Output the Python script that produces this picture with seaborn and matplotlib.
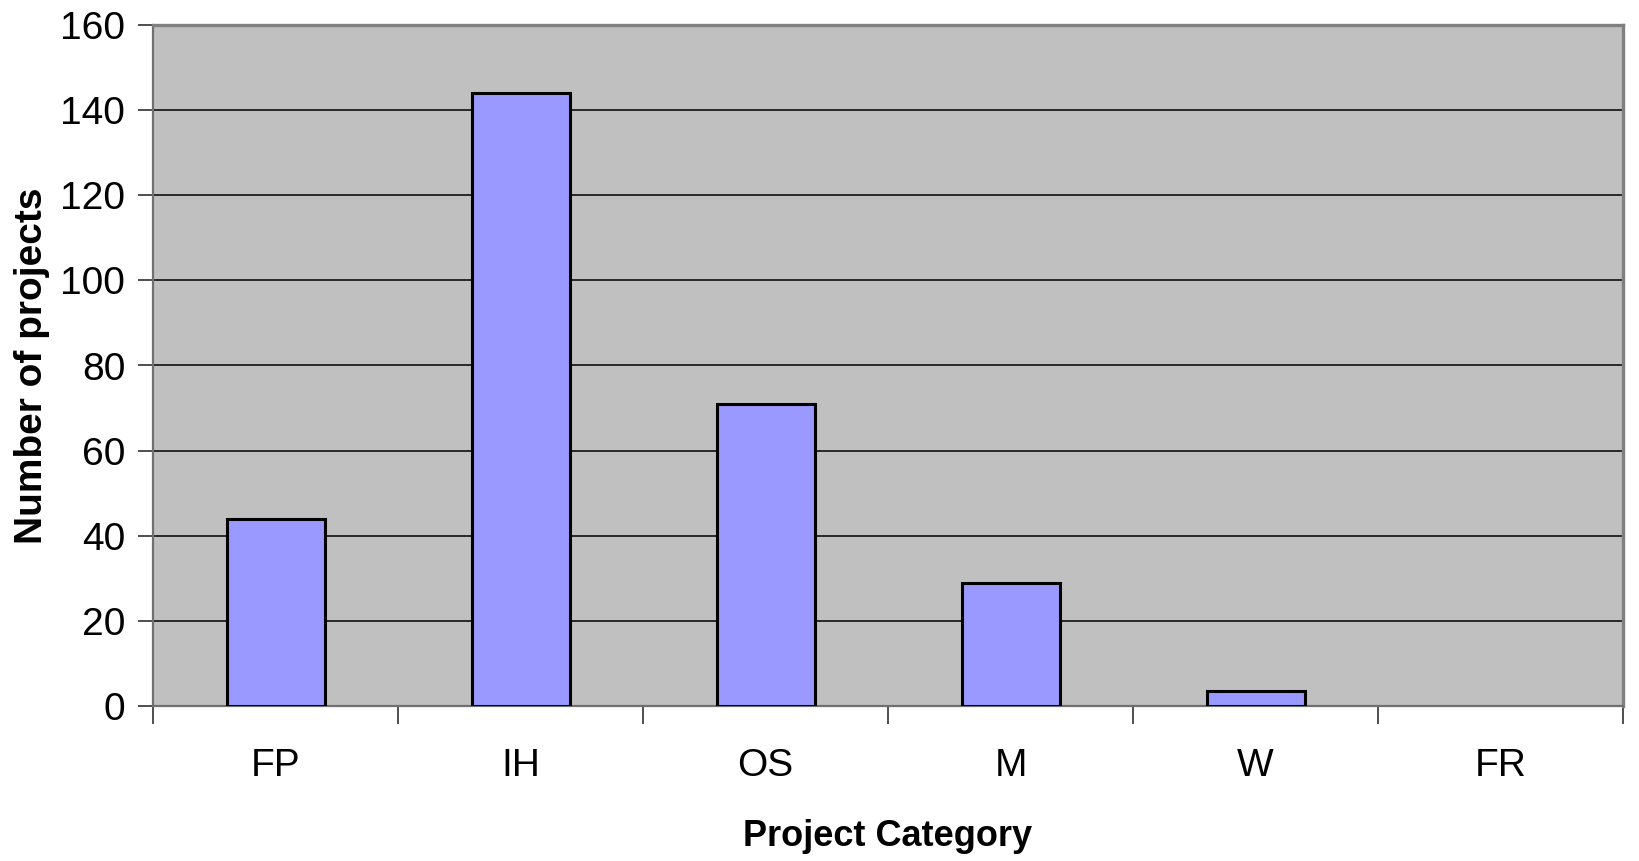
import numpy as np
import pandas as pd
import matplotlib
matplotlib.use("Agg")
import matplotlib.pyplot as plt
import seaborn as sns

categories = ["FP", "IH", "OS", "M", "W", "FR"]
projects = [44, 144, 71, 29, 3.5, 0]
y_ticks = [0, 20, 40, 60, 80, 100, 120, 140, 160]

df = pd.DataFrame({"category": categories, "projects": projects})

sns.set_theme(style="white")
plt.rcParams["font.family"] = ["Liberation Sans", "DejaVu Sans"]
plt.rcParams["text.color"] = "black"
plt.rcParams["axes.labelcolor"] = "black"
plt.rcParams["xtick.color"] = "black"
plt.rcParams["ytick.color"] = "black"

fig = plt.figure(figsize=(16.39, 8.61), dpi=100)
ax = fig.add_axes([153 / 1639, 1 - 706 / 861, 1470 / 1639, 681 / 861])
ax.set_facecolor("#C0C0C0")

sns.barplot(data=df, x="category", y="projects", order=categories,
            color="#9999FF", saturation=1, width=0.4,
            edgecolor="black", linewidth=2.2, ax=ax, zorder=3)

# an empty category shows no outline
for patch in ax.patches:
    if patch.get_height() == 0:
        patch.set_visible(False)

ax.set_ylim(0, 160)
ax.set_xlim(-0.5, len(categories) - 0.5)
ax.set_yticks(y_ticks)
ax.set_yticklabels([str(t) for t in y_ticks], fontsize=28)
ax.yaxis.grid(True, color="black", linewidth=1.1, zorder=1)
ax.set_axisbelow(True)

# category boundaries carry the tick marks, centres carry the labels
ax.set_xticks(np.arange(-0.5, len(categories), 1))
ax.set_xticklabels([""] * (len(categories) + 1))
ax.set_xticks(np.arange(len(categories)), minor=True)
ax.set_xticklabels(categories, minor=True, fontsize=28)
ax.tick_params(axis="x", which="major", length=13, width=1.2, color="#303030",
               direction="out", bottom=True)
ax.tick_params(axis="x", which="minor", length=0, pad=30)
ax.tick_params(axis="y", length=11, width=1.2, color="#303030",
               direction="out", left=True, pad=9)

for side in ["left", "bottom"]:
    ax.spines[side].set_color("#707070")
    ax.spines[side].set_linewidth(1.6)
for side in ["top", "right"]:
    ax.spines[side].set_visible(True)
    ax.spines[side].set_color("#808080")
    ax.spines[side].set_linewidth(2.4)

ax.set_xlabel("Project Category", fontsize=26, fontweight="bold", va="center")
ax.xaxis.set_label_coords(0.5, -130 / 681)
ax.set_ylabel("Number of projects", fontsize=28, fontweight="bold", va="center")
ax.yaxis.set_label_coords(-121 / 1470, 0.5)

fig.savefig("out.png", dpi=100, facecolor="white")
